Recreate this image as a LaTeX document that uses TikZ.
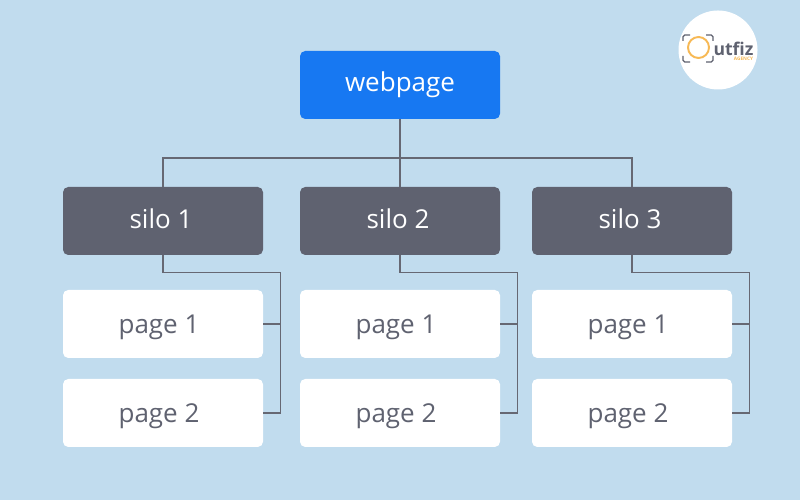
\documentclass[tikz,border=0pt]{standalone}
\usepackage{fontspec}
\setmainfont{Open Sans}
\usepackage{tikz}
\usetikzlibrary{calc}
\definecolor{skybg}{HTML}{C1DCEE}
\definecolor{topblue}{HTML}{1778F2}
\definecolor{silogray}{HTML}{5F6270}
\definecolor{linegray}{HTML}{666873}
\definecolor{logoorange}{HTML}{F7B955}
\tikzset{
  box/.style={minimum width=4cm,minimum height=1.36cm,rounded corners=3pt,inner sep=0pt,font=\fontsize{14.8}{16}\selectfont},
  topbox/.style={box,fill=topblue,text=white},
  silobox/.style={box,fill=silogray,text=white,text height=0.39cm,text depth=0.08cm,execute at end node=\kern0.08cm},
  pagebox/.style={box,fill=white,text=silogray,text height=0.5cm,text depth=0.13cm,execute at end node=\kern0.16cm},
  wire/.style={draw=linegray,line width=0.6pt}
}
\begin{document}
\begin{tikzpicture}
            \fill[skybg](0,0)rectangle(16,10);
            \useasboundingbox (0,0) rectangle (16,10);

            \node[topbox](web) at (8,8.3){webpage};
            \coordinate (bus) at (8,6.84);

            \node[silobox](silo1) at (3.26,5.58){silo 1};
            \node[silobox](silo2) at (8,5.58){silo 2};
            \node[silobox](silo3) at (12.64,5.58){silo 3};

            \draw[wire](web.south)--(silo2.north);
            \draw[wire](silo1.north)|-(bus)-|(silo3.north);

            \foreach \n in {1,2,3}{
                \path (silo\n) +(0,-2.06) node[pagebox](p\n a){page 1};
                \path (silo\n) +(0,-3.84) node[pagebox](p\n b){page 2};
                \coordinate (r\n) at ($(silo\n.south east)+(0.34,-0.34)$);
                \draw[wire](silo\n.south)|-(r\n)|-(p\n b.east);
                \draw[wire](p\n a.east)-|(r\n);
            }

            % logo
            \node[circle,fill=white,minimum size=1.58cm,inner sep=0pt](logo) at (14.36,9){};
            \draw[logoorange,line width=1.1pt](13.97,9.05)circle(0.21);
            \draw[silogray,line width=0.7pt,rounded corners=1pt]
                (13.66,9.18)|-(13.8,9.3) (14.12,9.3)-|(14.26,9.18)
                (14.26,8.88)|-(14.12,8.76) (13.8,8.76)-|(13.66,8.88);
            \node[inner sep=0pt,text=silogray,font=\fontsize{10}{10}\selectfont\bfseries](logotxt) at (14.67,9.03){utfiz};
            \node[inner sep=0pt,text=logoorange,font=\fontsize{2.7}{3}\selectfont\bfseries](logosub) at (14.87,8.83){AGENCY};

        \end{tikzpicture}
\end{document}
